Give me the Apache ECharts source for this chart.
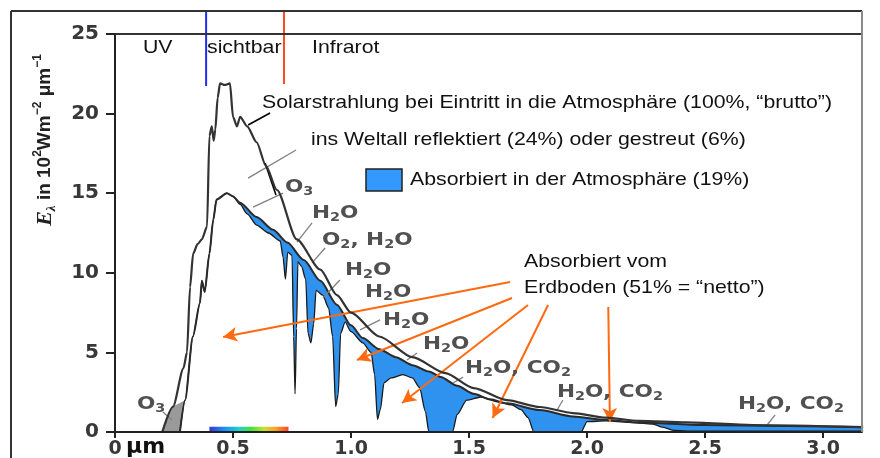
<!DOCTYPE html>
<html>
<head>
<meta charset="utf-8">
<script src="https://cdn.jsdelivr.net/npm/echarts@6/dist/echarts.min.js"></script>
<style>
  html, body { margin: 0; padding: 0; background: #fff; }
  #chart { width: 880px; height: 458px; }
</style>
</head>
<body>
<div id="chart"></div>
<script>
// wavelength in µm, E in 10^2 W m^-2 µm^-1

// solar radiation at top of atmosphere ("brutto")
let toaWl = [0.20, 0.246, 0.29, 0.305, 0.318, 0.331, 0.35, 0.368, 0.39, 0.40, 0.41, 0.418, 0.425, 0.435, 0.445, 0.465, 0.487, 0.50, 0.517, 0.53, 0.56, 0.60, 0.64, 0.686, 0.77, 0.87, 0.94, 1.0, 1.12, 1.26, 1.40, 1.52, 1.66, 1.80, 1.94, 2.08, 2.22, 2.42, 2.70, 3.17]
let toaE  = [0, 1.6, 4.0, 5.0, 9.1, 11.2, 11.8, 12.1, 12.9, 18.6, 19.2, 18.3, 19.0, 21.0, 21.9, 21.8, 21.9, 19.8, 19.2, 19.8, 19.2, 18.2, 16.7, 15.2, 12.1, 10.2, 8.6, 7.5, 6.0, 4.7, 3.7, 2.76, 2.0, 1.57, 1.19, 0.9, 0.7, 0.6, 0.44, 0.31]

// after reflection / scattering (top of the blue bands)
let envWl = [0.275, 0.297, 0.33, 0.36, 0.368, 0.38, 0.40, 0.416, 0.43, 0.474, 0.50, 0.53, 0.60, 0.67, 0.73, 0.80, 0.87, 0.94, 1.0, 1.05, 1.12, 1.19, 1.26, 1.33, 1.38, 1.45, 1.52, 1.59, 1.66, 1.80, 1.94, 2.08, 2.22, 2.49, 2.85, 3.17]
let envE  = [0, 2.0, 6.0, 8.1, 9.5, 8.8, 11.2, 13.3, 14.6, 15.0, 14.8, 14.4, 13.5, 12.7, 11.9, 10.8, 9.5, 8.0, 6.7, 5.9, 5.2, 4.7, 4.2, 3.8, 3.46, 2.9, 2.4, 2.05, 1.8, 1.38, 0.98, 0.75, 0.6, 0.44, 0.38, 0.3]

// reaching the ground ("netto")
let sfcWl = [0.275, 0.297, 0.33, 0.36, 0.368, 0.38, 0.40, 0.416, 0.43, 0.474, 0.50, 0.53, 0.56, 0.60, 0.65, 0.70, 0.712, 0.722, 0.732, 0.75, 0.757, 0.763, 0.769, 0.775, 0.79, 0.808, 0.818, 0.83, 0.842, 0.852, 0.88, 0.905, 0.922, 0.935, 0.946, 0.956, 0.975, 1.0, 1.05, 1.085, 1.10, 1.112, 1.124, 1.14, 1.17, 1.22, 1.26, 1.29, 1.315, 1.33, 1.43, 1.45, 1.49, 1.55, 1.62, 1.68, 1.72, 1.75, 1.775, 1.975, 2.0, 2.08, 2.22, 2.28, 2.32, 2.37, 2.45, 3.17]
let sfcE  = [0, 2.0, 6.0, 8.1, 9.5, 8.8, 11.2, 13.3, 14.6, 15.0, 14.8, 14.3, 13.7, 13.0, 12.5, 12.0, 11.0, 9.6, 11.3, 11.1, 6.0, 2.4, 6.5, 10.7, 10.4, 9.6, 6.2, 5.6, 6.8, 8.9, 8.6, 7.8, 6.0, 1.6, 2.4, 6.2, 6.9, 6.3, 5.6, 5.0, 3.6, 0.8, 1.4, 3.1, 3.4, 3.6, 3.4, 2.8, 1.3, 0, 0, 1.1, 2.0, 2.2, 1.9, 1.7, 1.4, 0.9, 0, 0, 0.65, 0.7, 0.56, 0.5, 0.3, 0.1, 0.05, 0.05]

// ozone absorption in the UV (grey wedge)
let o3Wl = [0.20, 0.246, 0.297]
let o3E  = [0, 1.6, 2.0]

// visible band and the band borders
let visibleBand = [0.40, 0.735]
let uvEdge = 0.386
let irEdge = 0.716

// orange arrows "absorbiert vom Erdboden": [from, to]
let arrows = [
  [[1.674, 9.42], [0.458, 5.97]],
  [[1.682, 8.42], [1.025, 4.52]],
  [[1.75, 7.98], [1.216, 1.82]],
  [[1.835, 7.98], [1.60, 0.88]],
  [[2.09, 7.85], [2.097, 0.63]]
]
// grey hatch lines next to the gas labels
let hatches = [
  [[0.564, 15.95], [0.767, 17.71]],
  [[0.585, 14.13], [0.712, 15.01]],
  [[0.771, 11.93], [0.835, 13.13]],
  [[0.835, 10.62], [0.89, 11.56]],
  [[0.881, 8.42], [0.953, 9.55]],
  [[1.038, 6.41], [1.123, 7.04]],
  [[1.237, 4.52], [1.28, 4.96]],
  [[1.432, 3.08], [1.475, 3.45]],
  [[1.873, 1.38], [1.898, 2.01]],
  [[2.763, 0.44], [2.797, 1.07]],
  [[0.203, 1.26], [0.242, 0.75]]
]
// black pointer lines of the two text notes
let pointers = [
  [[0.657, 20.04], [0.564, 19.28]],
  [[0.636, 16.9], [0.682, 14.89]]
]

let xTicks = [0, 0.5, 1.0, 1.5, 2.0, 2.5, 3.0]

const zip = (xs, ys) => xs.map((x, i) => [x, ys[i]])
const sans = "'Liberation Sans', Arial, sans-serif"
const wide = "'DejaVu Sans', sans-serif"
const blue = '#2f92ee'
const sm = 0.25

let chart = echarts.init(document.getElementById('chart'))

function note(x, y, text) {
  return {
    type: 'text', x: x, y: y, scaleX: 1.15, z: 100,
    style: { text: text, fontSize: 18.5, fontFamily: sans, fill: '#111',
      verticalAlign: 'middle', textVerticalAlign: 'middle' }
  }
}
const molRich = {
  m: { fontSize: 18, fontFamily: wide, fontWeight: 'bold', fill: '#505050', lineHeight: 22 },
  s: { fontSize: 12, fontFamily: wide, fontWeight: 'bold', fill: '#505050', lineHeight: 12, verticalAlign: 'bottom' }
}
function gas(x, y, text) {
  return {
    type: 'text', x: x, y: y, scaleX: 1.2, z: 100,
    style: { text: text, rich: molRich, verticalAlign: 'middle', textVerticalAlign: 'middle' }
  }
}
const h2o = '{m|H}{s|2}{m|O}'
const h2oco2 = '{m|H}{s|2}{m|O, CO}{s|2}'

function segs(list, style) {
  return list.map(p => [
    { coord: p[0], symbol: 'none', lineStyle: style },
    { coord: p[1], symbol: style.arrow ? 'arrow' : 'none' }
  ])
}

option = {
  backgroundColor: '#fff',
  animation: false,
  grid: { left: 115, right: 18, top: 34, bottom: 26, outerBoundsMode: 'none' },
  xAxis: {
    type: 'value', min: 0, max: 3.165, interval: 0.5, z: 10,
    splitLine: { show: false },
    axisLine: { lineStyle: { color: '#222', width: 2 } },
    axisTick: { length: 6, lineStyle: { color: '#222', width: 2 } },
    axisLabel: {
      margin: 8, fontSize: 19, fontWeight: 'bold', fontFamily: wide, color: '#383838',
      showMaxLabel: false,
      formatter: v => xTicks.indexOf(v) < 0 ? '' : (v === 0 ? '0' : v.toFixed(1))
    }
  },
  yAxis: {
    type: 'value', min: 0, max: 25, interval: 5, z: 10,
    splitLine: { show: false },
    axisLine: { show: true, lineStyle: { color: '#222', width: 2 } },
    axisTick: { show: true, length: 9, lineStyle: { color: '#222', width: 2 } },
    axisLabel: { margin: 16, fontSize: 20, fontWeight: 'bold', fontFamily: wide, color: '#383838' }
  },
  series: [
    {
      type: 'line', data: zip(o3Wl, o3E), symbol: 'none', z: 1,
      lineStyle: { width: 0 }, areaStyle: { color: '#9a9a9a', opacity: 1 }
    },
    {
      type: 'line', data: zip(envWl, envE), symbol: 'none', z: 2, smooth: sm, smoothMonotone: 'x',
      lineStyle: { width: 0 }, areaStyle: { color: blue, opacity: 1 }
    },
    {
      type: 'line', data: zip(sfcWl, sfcE), symbol: 'none', z: 3, smooth: sm, smoothMonotone: 'x',
      lineStyle: { color: '#1a1a1a', width: 1.3 }, areaStyle: { color: '#fff', opacity: 1 }
    },
    {
      type: 'line', data: zip(envWl, envE), symbol: 'none', z: 4, smooth: sm, smoothMonotone: 'x',
      lineStyle: { color: '#2a2a2a', width: 2 }
    },
    {
      type: 'line', data: zip(toaWl, toaE), symbol: 'none', z: 5, smooth: sm, smoothMonotone: 'x',
      lineStyle: { color: '#333', width: 2.2 },
      markLine: {
        silent: true, animation: false, label: { show: false }, symbolSize: [11, 14],
        data: segs(hatches, { color: '#808080', width: 1.3, type: 'solid' })
          .concat(segs(pointers, { color: '#000', width: 1.6, type: 'solid' }))
          .concat(segs(arrows, { color: '#ff6a10', width: 2, type: 'solid', arrow: true }))
      }
    },
    {
      type: 'line', symbol: 'none', z: 6,
      data: [[visibleBand[0], 0.18], [visibleBand[1], 0.18]],
      lineStyle: {
        width: 5,
        color: { type: 'linear', x: 0, y: 0, x2: 1, y2: 0, colorStops: [
          { offset: 0, color: '#3a2ad0' }, { offset: 0.2, color: '#1a8cff' },
          { offset: 0.38, color: '#20d0d0' }, { offset: 0.52, color: '#40e040' },
          { offset: 0.68, color: '#c8e030' }, { offset: 0.82, color: '#ffa020' },
          { offset: 1, color: '#ff3030' }] }
      }
    },
    {
      type: 'line', symbol: 'none', z: 6, clip: false,
      data: [[uvEdge, 21.73], [uvEdge, 26.5]],
      lineStyle: { color: '#1f2ff0', width: 2 }
    },
    {
      type: 'line', symbol: 'none', z: 6, clip: false,
      data: [[irEdge, 21.86], [irEdge, 26.5]],
      lineStyle: { color: '#ff4a1a', width: 2 }
    }
  ],
  graphic: [
    // frame of the scanned figure
    { type: 'line', z: 50, shape: { x1: 11, y1: 11, x2: 862, y2: 11 }, style: { stroke: '#333', lineWidth: 2 } },
    { type: 'line', z: 50, shape: { x1: 11, y1: 11, x2: 11, y2: 458 }, style: { stroke: '#333', lineWidth: 2 } },
    { type: 'line', z: 50, shape: { x1: 115, y1: 34, x2: 862, y2: 34 }, style: { stroke: '#333', lineWidth: 2 } },
    { type: 'line', z: 50, shape: { x1: 862, y1: 11, x2: 862, y2: 432 }, style: { stroke: '#8a8a8a', lineWidth: 2 } },
    // axis title
    {
      type: 'text', x: 45, y: 140, rotation: Math.PI / 2, z: 100,
      style: {
        text: '{e|E}{sub|λ}{t| in 10}{sup|2}{t|Wm}{sup|−2}{t| μm}{sup|−1}',
        align: 'center', verticalAlign: 'middle', textAlign: 'center', textVerticalAlign: 'middle',
        rich: {
          e: { fontSize: 22, fontFamily: "'Liberation Serif', serif", fontStyle: 'italic', fontWeight: 'bold', fill: '#222', lineHeight: 26 },
          sub: { fontSize: 13, fontFamily: "'Liberation Serif', serif", fontStyle: 'italic', fontWeight: 'bold', fill: '#222', lineHeight: 12, verticalAlign: 'bottom' },
          t: { fontSize: 19, fontFamily: sans, fontWeight: 'bold', fill: '#222', lineHeight: 26 },
          sup: { fontSize: 12, fontFamily: sans, fontWeight: 'bold', fill: '#222', lineHeight: 12, verticalAlign: 'top' }
        }
      }
    },
    { type: 'text', x: 126, y: 447, z: 100,
      style: { text: 'μm', fontSize: 22, fontWeight: 'bold', fontFamily: wide, fill: '#111',
        verticalAlign: 'middle', textVerticalAlign: 'middle' } },
    note(143, 48, 'UV'),
    note(207, 48, 'sichtbar'),
    note(312, 48, 'Infrarot'),
    note(262, 103, 'Solarstrahlung bei Eintritt in die Atmosphäre (100%, “brutto”)'),
    note(311, 140, 'ins Weltall reflektiert (24%) oder gestreut (6%)'),
    { type: 'rect', z: 100, shape: { x: 366, y: 169, width: 36, height: 22 },
      style: { fill: '#3399ff', stroke: '#222', lineWidth: 1.5 } },
    note(410, 180, 'Absorbiert in der Atmosphäre (19%)'),
    note(524, 262, 'Absorbiert vom'),
    note(524, 288, 'Erdboden (51% = “netto”)'),
    gas(137, 404, '{m|O}{s|3}'),
    gas(285, 187, '{m|O}{s|3}'),
    gas(312, 213, h2o),
    gas(322, 240, '{m|O}{s|2}{m|, H}{s|2}{m|O}'),
    gas(345, 270, h2o),
    gas(365, 292, h2o),
    gas(383, 320, h2o),
    gas(423, 344, h2o),
    gas(465, 368, h2oco2),
    gas(557, 392, h2oco2),
    gas(738, 404, h2oco2)
  ]
}

chart.setOption(option)
</script>
</body>
</html>
